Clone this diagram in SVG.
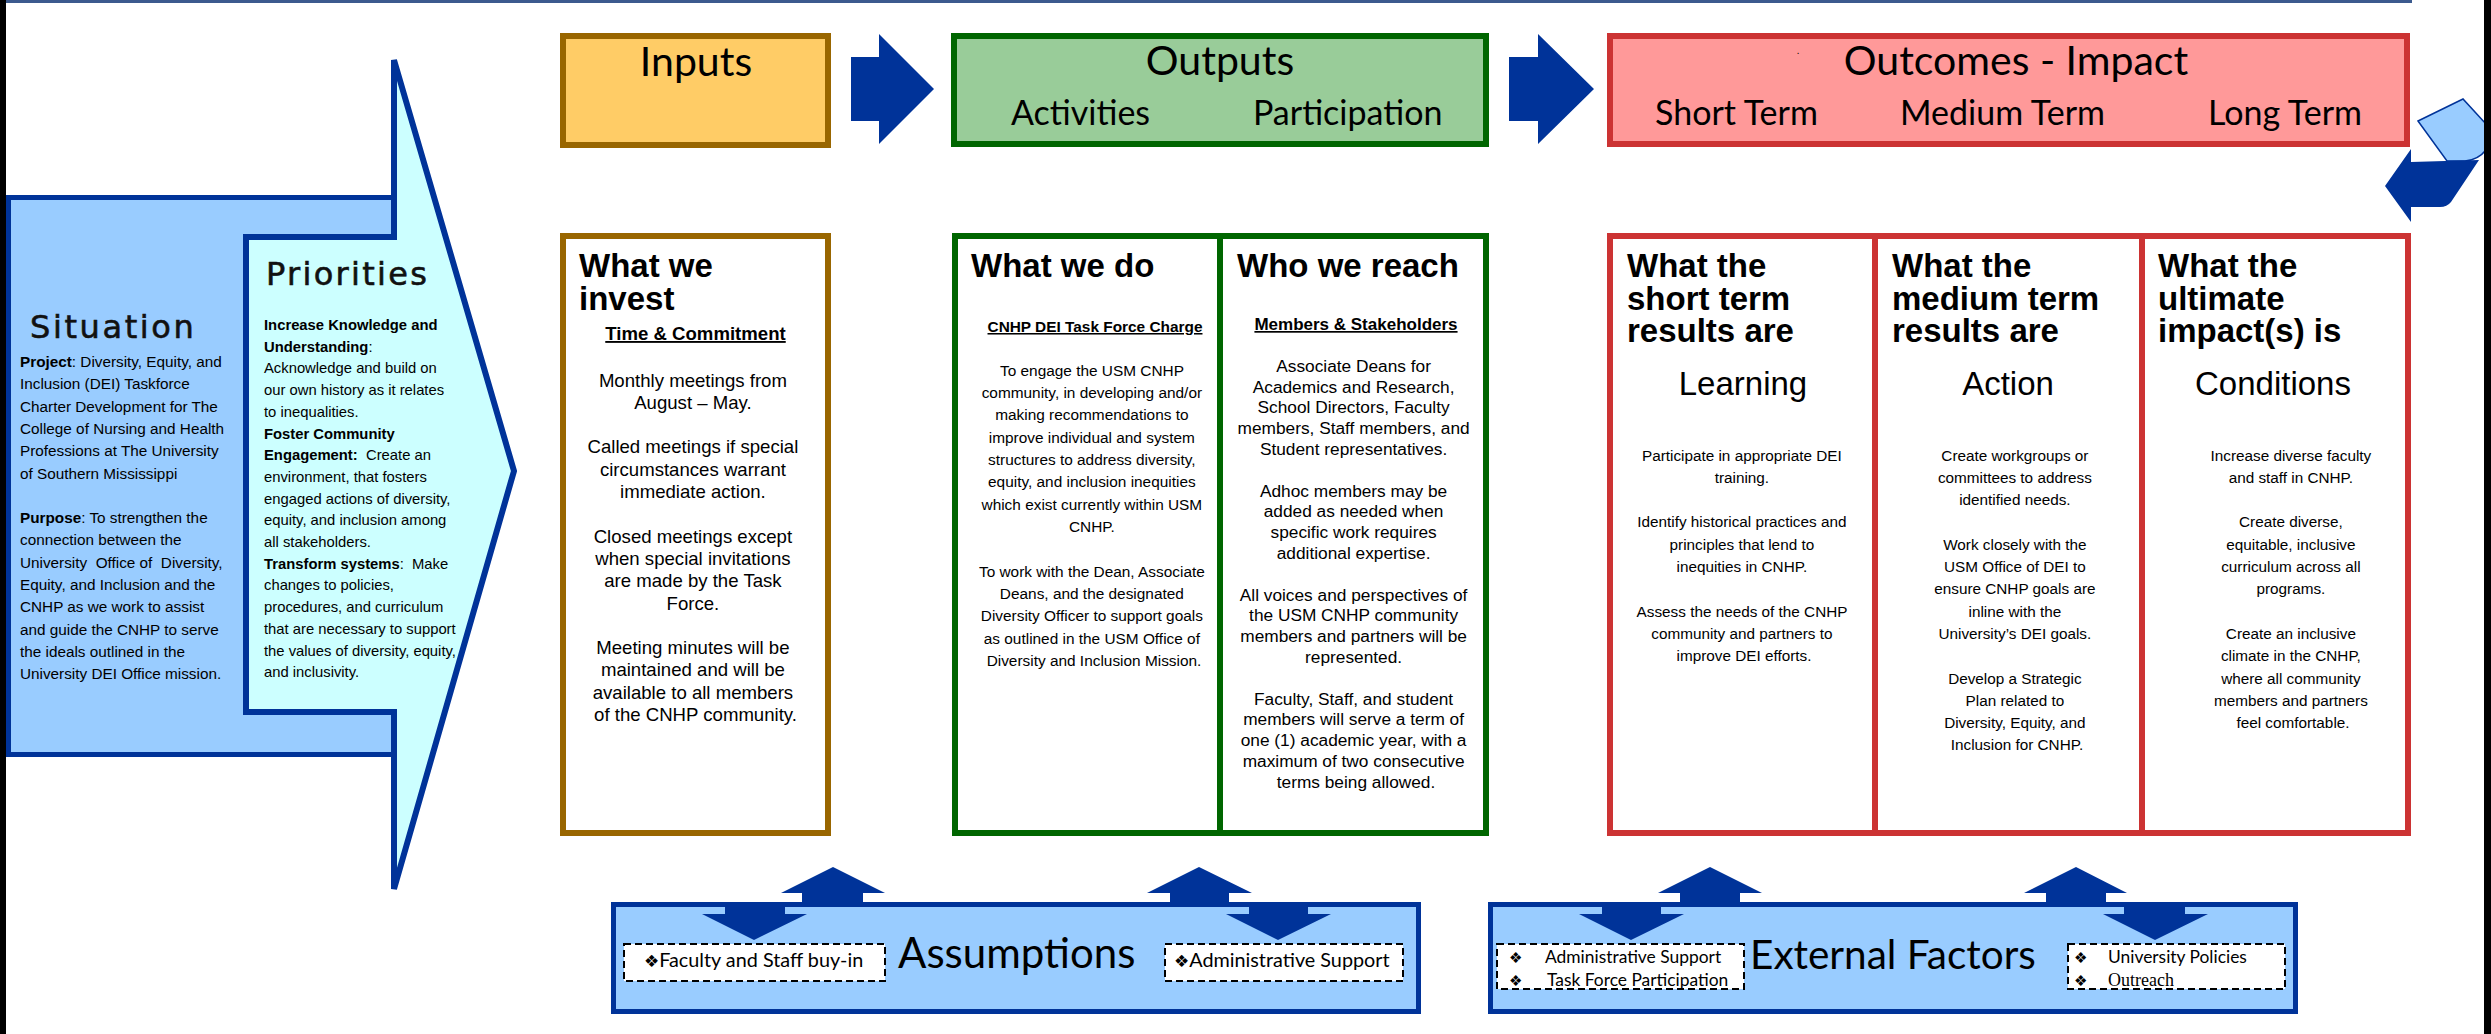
<svg xmlns="http://www.w3.org/2000/svg" width="2491" height="1034" viewBox="0 0 2491 1034">
<defs>
<style>
.cal{font-family:Lato,"Open Sans","Liberation Sans",sans-serif;fill:#000}
.h1{font-size:41px}
.h2{font-size:34px}
.ar{font-family:"Liberation Sans",Arial,sans-serif;fill:#000}
.colh{font-family:"Liberation Sans",Arial,sans-serif;font-weight:bold;font-size:33px;fill:#000}
.big{font-family:"Liberation Sans",Arial,sans-serif;font-size:33px;fill:#000}
.b{font-weight:bold}
.ul{text-decoration:underline}
.pre{white-space:pre}
.ttl{font-family:"DejaVu Sans",Verdana,sans-serif;font-size:32px;fill:#111;stroke:#111;stroke-width:0.6}
.blue{fill:#003399}
.dash{fill:#fff;stroke:#000;stroke-width:2;stroke-dasharray:7 4}
.dia{font-family:"DejaVu Sans",sans-serif}
</style>
</defs>
<rect width="2491" height="1034" fill="#fff"/>
<rect x="0" y="0" width="2412" height="3" fill="#3C5A8E"/>

<g id="situation">
<rect x="8.5" y="197.5" width="386" height="557" fill="#99CCFF" stroke="#003399" stroke-width="5"/>
<text class="ttl" x="30" y="338" letter-spacing="2.6">Situation</text>
<text class="ar pre" font-size="15.3">
<tspan x="20" y="367"><tspan class="b">Project</tspan>: Diversity, Equity, and</tspan>
<tspan x="20" y="389.3">Inclusion (DEI) Taskforce</tspan>
<tspan x="20" y="411.6">Charter Development for The</tspan>
<tspan x="20" y="433.9">College of Nursing and Health</tspan>
<tspan x="20" y="456.2">Professions at The University</tspan>
<tspan x="20" y="478.5">of Southern Mississippi</tspan>
<tspan x="20" y="523.1"><tspan class="b">Purpose</tspan>: To strengthen the</tspan>
<tspan x="20" y="545.4">connection between the</tspan>
<tspan x="20" y="567.7">University  Office of  Diversity,</tspan>
<tspan x="20" y="590">Equity, and Inclusion and the</tspan>
<tspan x="20" y="612.3">CNHP as we work to assist</tspan>
<tspan x="20" y="634.6">and guide the CNHP to serve</tspan>
<tspan x="20" y="656.9">the ideals outlined in the</tspan>
<tspan x="20" y="679.2">University DEI Office mission.</tspan>
</text>
</g>

<g id="priorities">
<path d="M246,237 H394 V60 L514,471 L394,889 V712 H246 Z" fill="#CCFFFF" stroke="#003399" stroke-width="6"/>
<text class="ttl" x="266" y="285" letter-spacing="2.3">Priorities</text>
<text class="ar pre" font-size="14.8">
<tspan x="264" y="330" class="b">Increase Knowledge and</tspan>
<tspan x="264" y="351.7"><tspan class="b">Understanding</tspan>:</tspan>
<tspan x="264" y="373.4">Acknowledge and build on</tspan>
<tspan x="264" y="395.1">our own history as it relates</tspan>
<tspan x="264" y="416.8">to inequalities.</tspan>
<tspan x="264" y="438.5" class="b">Foster Community</tspan>
<tspan x="264" y="460.2"><tspan class="b">Engagement:</tspan>  Create an</tspan>
<tspan x="264" y="481.9">environment, that fosters</tspan>
<tspan x="264" y="503.6">engaged actions of diversity,</tspan>
<tspan x="264" y="525.3">equity, and inclusion among</tspan>
<tspan x="264" y="547">all stakeholders.</tspan>
<tspan x="264" y="568.7"><tspan class="b">Transform systems</tspan>:  Make</tspan>
<tspan x="264" y="590.4">changes to policies,</tspan>
<tspan x="264" y="612.1">procedures, and curriculum</tspan>
<tspan x="264" y="633.8">that are necessary to support</tspan>
<tspan x="264" y="655.5">the values of diversity, equity,</tspan>
<tspan x="264" y="677.2">and inclusivity.</tspan>
</text>
</g>

<g id="inputs-header">
<rect x="563" y="36" width="265" height="109" fill="#FFCC66" stroke="#996600" stroke-width="6"/>
<text class="cal h1" x="696" y="76" text-anchor="middle">Inputs</text>
</g>

<g id="outputs-header">
<rect x="954" y="36" width="532" height="108" fill="#99CC99" stroke="#006600" stroke-width="6"/>
<text class="cal h1" x="1220" y="75" text-anchor="middle">Outputs</text>
<text class="cal h2" x="1011" y="125">Activities</text>
<text class="cal h2" x="1253" y="125">Participation</text>
</g>

<g id="outcomes-header">
<rect x="1610" y="36" width="797" height="108" fill="#FF9999" stroke="#CC3333" stroke-width="6"/>
<text class="cal" x="1797" y="54" font-size="9">.</text>
<text class="cal h1" x="2016" y="75" text-anchor="middle">Outcomes - Impact</text>
<text class="cal h2" x="1655" y="125">Short Term</text>
<text class="cal h2" x="1900" y="125">Medium Term</text>
<text class="cal h2" x="2208" y="125">Long Term</text>
</g>

<g id="inputs-column">
<rect x="563" y="236" width="265" height="597" fill="#fff" stroke="#996600" stroke-width="6"/>
<text class="colh"><tspan x="579" y="277">What we</tspan><tspan x="579" y="309.5">invest</tspan></text>
<text class="ar b ul" font-size="18.6" x="695.5" y="340" text-anchor="middle">Time &amp; Commitment</text>
<text class="ar" font-size="18.6" text-anchor="middle">
<tspan x="695.5" y="386.5">Monthly meetings from</tspan>
<tspan x="695.5" y="408.8">August – May.</tspan>
<tspan x="695.5" y="453.4">Called meetings if special</tspan>
<tspan x="695.5" y="475.7">circumstances warrant</tspan>
<tspan x="695.5" y="498">immediate action.</tspan>
<tspan x="695.5" y="542.6">Closed meetings except</tspan>
<tspan x="695.5" y="564.9">when special invitations</tspan>
<tspan x="695.5" y="587.2">are made by the Task</tspan>
<tspan x="695.5" y="609.5">Force.</tspan>
<tspan x="695.5" y="654.1">Meeting minutes will be</tspan>
<tspan x="695.5" y="676.4">maintained and will be</tspan>
<tspan x="695.5" y="698.7">available to all members</tspan>
<tspan x="695.5" y="721">of the CNHP community.</tspan>
</text>
</g>

<g id="outputs-column">
<rect x="955" y="236" width="531" height="597" fill="#fff" stroke="#006600" stroke-width="6"/>
<line x1="1220" y1="236" x2="1220" y2="833" stroke="#006600" stroke-width="6"/>
<text class="colh" x="971" y="277">What we do</text>
<text class="ar b ul" font-size="15.4" x="1095" y="332" text-anchor="middle">CNHP DEI Task Force Charge</text>
<text class="ar" font-size="15.4" text-anchor="middle">
<tspan x="1094" y="375.5">To engage the USM CNHP</tspan>
<tspan x="1094" y="397.85">community, in developing and/or</tspan>
<tspan x="1094" y="420.2">making recommendations to</tspan>
<tspan x="1094" y="442.55">improve individual and system</tspan>
<tspan x="1094" y="464.9">structures to address diversity,</tspan>
<tspan x="1094" y="487.25">equity, and inclusion inequities</tspan>
<tspan x="1094" y="509.6">which exist currently within USM</tspan>
<tspan x="1094" y="531.95">CNHP.</tspan>
<tspan x="1094" y="576.65">To work with the Dean, Associate</tspan>
<tspan x="1094" y="599">Deans, and the designated</tspan>
<tspan x="1094" y="621.35">Diversity Officer to support goals</tspan>
<tspan x="1094" y="643.7">as outlined in the USM Office of</tspan>
<tspan x="1094" y="666.05">Diversity and Inclusion Mission.</tspan>
</text>
<text class="colh" x="1237" y="277">Who we reach</text>
<text class="ar b ul" font-size="17" x="1356" y="330" text-anchor="middle">Members &amp; Stakeholders</text>
<text class="ar" font-size="17.3" text-anchor="middle">
<tspan x="1356" y="371.7">Associate Deans for</tspan>
<tspan x="1356" y="392.5">Academics and Research,</tspan>
<tspan x="1356" y="413.3">School Directors, Faculty</tspan>
<tspan x="1356" y="434.1">members, Staff members, and</tspan>
<tspan x="1356" y="454.9">Student representatives.</tspan>
<tspan x="1356" y="496.5">Adhoc members may be</tspan>
<tspan x="1356" y="517.3">added as needed when</tspan>
<tspan x="1356" y="538.1">specific work requires</tspan>
<tspan x="1356" y="558.9">additional expertise.</tspan>
<tspan x="1356" y="600.5">All voices and perspectives of</tspan>
<tspan x="1356" y="621.3">the USM CNHP community</tspan>
<tspan x="1356" y="642.1">members and partners will be</tspan>
<tspan x="1356" y="662.9">represented.</tspan>
<tspan x="1356" y="704.5">Faculty, Staff, and student</tspan>
<tspan x="1356" y="725.3">members will serve a term of</tspan>
<tspan x="1356" y="746.1">one (1) academic year, with a</tspan>
<tspan x="1356" y="766.9">maximum of two consecutive</tspan>
<tspan x="1356" y="787.7">terms being allowed.</tspan>
</text>
</g>

<g id="outcomes-column">
<rect x="1610" y="236" width="798" height="597" fill="#fff" stroke="#CC3333" stroke-width="6"/>
<line x1="1875" y1="236" x2="1875" y2="833" stroke="#CC3333" stroke-width="6"/>
<line x1="2142" y1="236" x2="2142" y2="833" stroke="#CC3333" stroke-width="6"/>
<text class="colh"><tspan x="1627" y="277">What the</tspan><tspan x="1627" y="309.5">short term</tspan><tspan x="1627" y="342">results are</tspan></text>
<text class="big" x="1743" y="395" text-anchor="middle">Learning</text>
<text class="ar" font-size="15.3" text-anchor="middle">
<tspan x="1744" y="460.5">Participate in appropriate DEI</tspan>
<tspan x="1744" y="482.8">training.</tspan>
<tspan x="1744" y="527.4">Identify historical practices and</tspan>
<tspan x="1744" y="549.7">principles that lend to</tspan>
<tspan x="1744" y="572">inequities in CNHP.</tspan>
<tspan x="1744" y="616.6">Assess the needs of the CNHP</tspan>
<tspan x="1744" y="638.9">community and partners to</tspan>
<tspan x="1744" y="661.2">improve DEI efforts.</tspan>
</text>
<text class="colh"><tspan x="1892" y="277">What the</tspan><tspan x="1892" y="309.5">medium term</tspan><tspan x="1892" y="342">results are</tspan></text>
<text class="big" x="2008" y="395" text-anchor="middle">Action</text>
<text class="ar" font-size="15.3" text-anchor="middle">
<tspan x="2017" y="460.5">Create workgroups or</tspan>
<tspan x="2017" y="482.8">committees to address</tspan>
<tspan x="2017" y="505.1">identified needs.</tspan>
<tspan x="2017" y="549.7">Work closely with the</tspan>
<tspan x="2017" y="572">USM Office of DEI to</tspan>
<tspan x="2017" y="594.3">ensure CNHP goals are</tspan>
<tspan x="2017" y="616.6">inline with the</tspan>
<tspan x="2017" y="638.9">University’s DEI goals.</tspan>
<tspan x="2017" y="683.5">Develop a Strategic</tspan>
<tspan x="2017" y="705.8">Plan related to</tspan>
<tspan x="2017" y="728.1">Diversity, Equity, and</tspan>
<tspan x="2017" y="750.4">Inclusion for CNHP.</tspan>
</text>
<text class="colh"><tspan x="2158" y="277">What the</tspan><tspan x="2158" y="309.5">ultimate</tspan><tspan x="2158" y="342">impact(s) is</tspan></text>
<text class="big" x="2273" y="395" text-anchor="middle">Conditions</text>
<text class="ar" font-size="15.3" text-anchor="middle">
<tspan x="2293" y="460.5">Increase diverse faculty</tspan>
<tspan x="2293" y="482.8">and staff in CNHP.</tspan>
<tspan x="2293" y="527.4">Create diverse,</tspan>
<tspan x="2293" y="549.7">equitable, inclusive</tspan>
<tspan x="2293" y="572">curriculum across all</tspan>
<tspan x="2293" y="594.3">programs.</tspan>
<tspan x="2293" y="638.9">Create an inclusive</tspan>
<tspan x="2293" y="661.2">climate in the CNHP,</tspan>
<tspan x="2293" y="683.5">where all community</tspan>
<tspan x="2293" y="705.8">members and partners</tspan>
<tspan x="2293" y="728.1">feel comfortable.</tspan>
</text>
</g>

<g id="assumptions">
<rect x="613.5" y="904.5" width="805" height="107" fill="#99CCFF" stroke="#003399" stroke-width="5"/>
<rect class="dash" x="624" y="944" width="261" height="37"/>
<text class="cal" font-size="19.8" x="644" y="967"><tspan class="dia" font-size="17">❖</tspan>Faculty and Staff buy-in</text>
<text class="cal" font-size="42" x="898" y="968">Assumptions</text>
<rect class="dash" x="1165" y="944" width="238" height="37"/>
<text class="cal" font-size="19.8" x="1174" y="967"><tspan class="dia" font-size="17">❖</tspan>Administrative Support</text>
</g>

<g id="external-factors">
<rect x="1490.5" y="904.5" width="805" height="107" fill="#99CCFF" stroke="#003399" stroke-width="5"/>
<rect class="dash" x="1497" y="944" width="247" height="45"/>
<text class="dia" font-size="15" x="1509" y="963">❖</text>
<text class="cal" font-size="17.4" x="1545" y="963">Administrative Support</text>
<text class="dia" font-size="15" x="1509" y="986">❖</text>
<text class="cal" font-size="17.4" x="1547" y="986">Task Force Participation</text>
<text class="cal" font-size="40.5" x="1750" y="969">External Factors</text>
<rect class="dash" x="2068" y="944" width="217" height="45"/>
<text class="dia" font-size="15" x="2074" y="963">❖</text>
<text class="cal" font-size="17.4" x="2108" y="963">University Policies</text>
<text class="dia" font-size="15" x="2074" y="986">❖</text>
<text font-family="'Liberation Serif',serif" font-size="18" x="2108" y="986">Outreach</text>
</g>

<g id="connectors">
<polygon class="blue" points="851,57 879,57 879,34 934,89 879,144 879,121 851,121"/>
<polygon class="blue" points="1509,57 1538,57 1538,34 1594,89 1538,144 1538,121 1509,121"/>
<polygon class="blue" points="833,867 885,893 863,893 863,905 802,905 802,893 781,893"/>
<polygon class="blue" points="725,903 785,903 785,914 807,914 754,940 702,914 725,914"/>
<polygon class="blue" points="1199,867 1252,893 1229,893 1229,905 1170,905 1170,893 1147,893"/>
<polygon class="blue" points="1249,903 1308,903 1308,914 1331,914 1278,940 1226,914 1249,914"/>
<polygon class="blue" points="1710,867 1762,893 1740,893 1740,905 1680,905 1680,893 1658,893"/>
<polygon class="blue" points="1602,903 1661,903 1661,914 1684,914 1631,940 1579,914 1602,914"/>
<polygon class="blue" points="2076,867 2127,893 2106,893 2106,905 2046,905 2046,893 2024,893"/>
<polygon class="blue" points="2124,903 2185,903 2185,914 2208,914 2155,940 2103,914 2124,914"/>
<path d="M2418,121 L2463,99 L2486,124 L2486,150 Q2478,160 2465,161 L2447,161 Z" fill="#99CCFF" stroke="#003399" stroke-width="1.5"/>
<path d="M2385,186 L2411,149 L2411,162 L2479,160 L2451,202 Q2447,207 2440,207 L2411,207 L2411,222 Z" class="blue"/>
</g>

<rect x="0" y="0" width="6" height="1034" fill="#000"/>
<rect x="2484" y="0" width="7" height="1034" fill="#000"/>
</svg>
